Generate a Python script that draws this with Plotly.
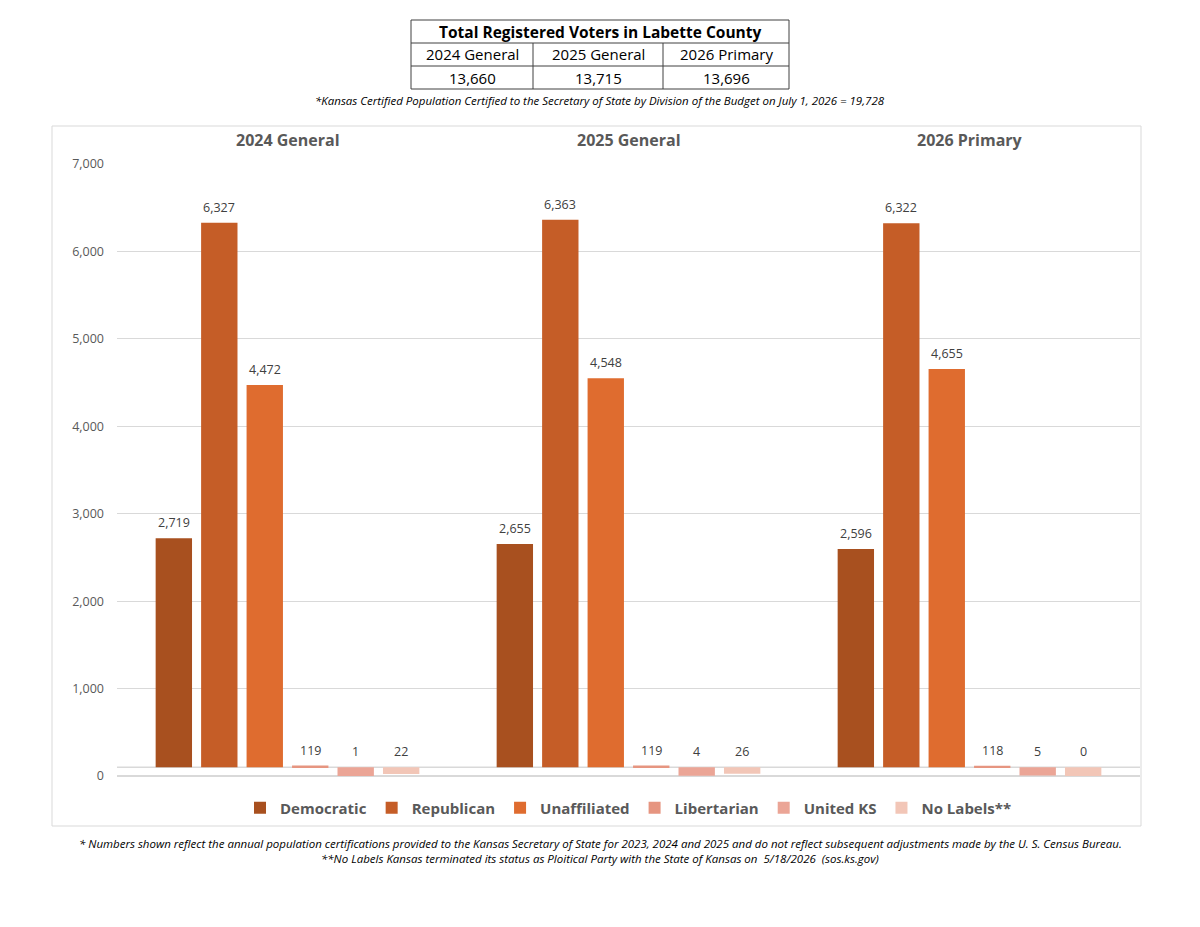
import plotly.graph_objects as go

groups = ["2024 General", "2025 General", "2026 Primary"]
series = ["Democratic", "Republican", "Unaffiliated", "Libertarian", "United KS", "No Labels**"]
values = {
    "Democratic": [2719, 2655, 2596],
    "Republican": [6327, 6363, 6322],
    "Unaffiliated": [4472, 4548, 4655],
    "Libertarian": [119, 119, 118],
    "United KS": [1, 4, 5],
    "No Labels**": [22, 26, 0],
}
totals = ["13,660", "13,715", "13,696"]
colors = ["#A8501F", "#C55D27", "#DF6C2F", "#E69580", "#EBA596", "#F2C6B7"]
AXIS_CROSS = 100

OFF = 8  # page body margin
W, H = 1200 - 2 * OFF, 927 - 2 * OFF
L, R, T, B = 117 - OFF, 1140 - OFF, 164 - OFF, 776 - OFF
def px(x): return (x - OFF - L) / (R - L)
def py(y): return (B - (y - OFF)) / (B - T)

fig = go.Figure()
for i, s in enumerate(series):
    v = values[s]
    fig.add_trace(go.Bar(
        x=groups, y=[a - AXIS_CROSS for a in v], base=AXIS_CROSS, name=f"<b>{s}</b>",
        marker_color=colors[i], marker_line_width=0, hoverinfo="skip",
        offsetgroup=str(i),
    ))

font = "Open Sans, Liberation Sans, sans-serif"
ann = []
nser = len(series)
for i, s in enumerate(series):
    for g, a in enumerate(values[s]):
        ann.append(dict(x=g, y=max(a, AXIS_CROSS), xref="x", yref="y", text=f"{a:,}",
                        showarrow=False, yanchor="bottom", yshift=5,
                        xshift=(i - (nser - 1) / 2) * 45.5,
                        font=dict(size=12.5, color="#404040", family=font)))
for g, name in enumerate(groups):
    ann.append(dict(x=g, y=py(140), xref="x", yref="paper", text=f"<b>{name}</b>", yanchor="middle",
                    showarrow=False, font=dict(size=16, color="#595959", family=font)))

shapes = []
shapes.append(dict(type="rect", xref="paper", yref="paper", x0=px(52), x1=px(1141), y0=py(826), y1=py(126),
                   line=dict(color="#d9d9d9", width=1), layer="below"))
shapes.append(dict(type="line", xref="paper", yref="y", x0=0, x1=1, y0=AXIS_CROSS, y1=AXIS_CROSS,
                   line=dict(color="#d9d9d9", width=1.5), layer="below"))
tx = [411, 533, 663, 789]
ty = [20, 43, 66, 89]
shapes.append(dict(type="rect", xref="paper", yref="paper", x0=px(tx[0]), x1=px(tx[3]), y0=py(ty[3]), y1=py(ty[0]),
                   line=dict(color="#404040", width=1)))
for yy in ty[1:3]:
    shapes.append(dict(type="line", xref="paper", yref="paper", x0=px(tx[0]), x1=px(tx[3]), y0=py(yy), y1=py(yy),
                       line=dict(color="#404040", width=1)))
for xx in tx[1:3]:
    shapes.append(dict(type="line", xref="paper", yref="paper", x0=px(xx), x1=px(xx), y0=py(ty[1]), y1=py(ty[3]),
                       line=dict(color="#404040", width=1)))
def note(x, y, text, size, **kw):
    ann.append(dict(x=px(x), y=py(y), xref="paper", yref="paper", showarrow=False, text=text,
                    xanchor="center", yanchor="middle", font=dict(size=size, color="#000", family=font), **kw))
note((tx[0] + tx[3]) / 2, 31.5, "<b>Total Registered Voters in Labette County</b>", 15.5)
for k in range(3):
    cx = (tx[k] + tx[k + 1]) / 2
    note(cx, 54.5, groups[k], 15)
    note(cx, 77.5, totals[k], 15)
note(600, 101, "<i>*Kansas Certified Population Certified to the Secretary of State by Division of the Budget on July 1, 2026 = 19,728</i>", 11.5)
note(600, 843, "<i>* Numbers shown reflect the annual population certifications provided to the Kansas Secretary of State for 2023, 2024 and 2025 and do not reflect subsequent adjustments made by the U. S. Census Bureau.</i>", 11.5)
note(600, 858, "<i>**No Labels Kansas terminated its status as Ploitical Party with the State of Kansas on  5/18/2026  (sos.ks.gov)</i>", 11.5)

fig.update_layout(
    width=W, height=H, paper_bgcolor="white", plot_bgcolor="white",
    margin=dict(l=L, r=W - R, t=T, b=H - B, autoexpand=False),
    barmode="group", bargap=0.2, bargroupgap=0.2,
    showlegend=True,
    legend=dict(orientation="h", x=0.5, xanchor="center", y=py(808), yanchor="middle",
                font=dict(size=15, color="#595959", family=font), traceorder="normal",
                itemwidth=30, tracegroupgap=0),
    xaxis=dict(showticklabels=False, showgrid=False, zeroline=False, showline=False, ticks=""),
    yaxis=dict(range=[0, 7000], dtick=1000, tickformat=",", showgrid=True, gridcolor="#d9d9d9",
               zeroline=True, zerolinecolor="#d9d9d9", showline=False, ticks="", ticklabelstandoff=12,
               tickfont=dict(size=12.5, color="#595959", family=font)),
    annotations=ann, shapes=shapes,
)
fig.write_html("out.html")
